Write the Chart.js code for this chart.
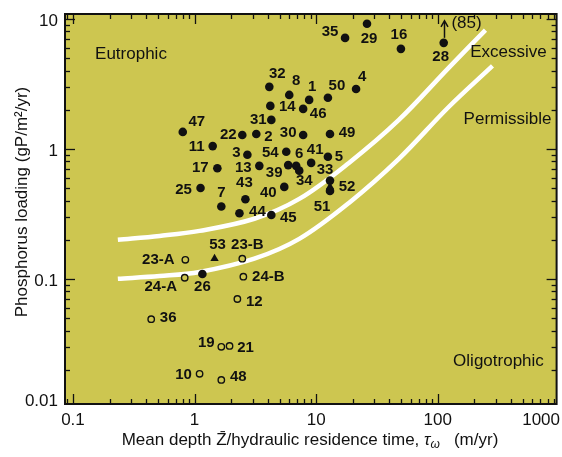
<!DOCTYPE html>
<html>
<head>
<meta charset="utf-8">
<script src="https://cdn.jsdelivr.net/npm/chart.js@4.4.0/dist/chart.umd.min.js"></script>
<style>
  html, body { margin: 0; padding: 0; background: #fff; }
</style>
</head>
<body>
<canvas id="chart" width="562" height="457"></canvas>
<script>
// Lakes: x = mean depth / residence time (m/yr), y = P loading (gP/m2/yr)
const filledLakes = ['32', '8', '1', '46', '50', '4', '14', '31', '22', '2', '30', '49',
  '47', '11', '3', '54', '6', '39', '17', '13', '41', '5', '34', '25', '40', '7', '43',
  '44', '45', '26', '33', '51', '35', '29', '16', '28'];
const filledRate = [4.12, 6.01, 8.76, 7.82, 12.5, 21.3, 4.20, 4.28, 2.47, 3.22, 7.82, 13.0,
  0.80, 1.41, 2.72, 5.68, 6.85, 5.89, 1.54, 3.41, 9.10, 12.5, 7.26, 1.12, 5.47, 1.66, 2.62,
  2.34, 4.28, 1.16, 13.0, 13.0, 17.3, 26.2, 49.8, 112];
const filledLoad = [3.0, 2.60, 2.38, 2.03, 2.47, 2.89, 2.14, 1.67, 1.28, 1.30, 1.28, 1.30,
  1.35, 1.05, 0.90, 0.95, 0.74, 0.75, 0.71, 0.74, 0.78, 0.87, 0.68, 0.50, 0.51, 0.36, 0.41,
  0.32, 0.31, 0.109, 0.57, 0.475, 7.14, 9.16, 5.88, 6.54];

const triLakes = ['52', '53'];
const triRate = [13.0, 1.46];
const triLoad = [0.51, 0.143];

const openLakes = ['23-A', '23-B', '24-A', '24-B', '12', '36', '19', '21', '10', '48'];
const openRate = [0.84, 2.47, 0.83, 2.52, 2.25, 0.44, 1.66, 1.94, 1.10, 1.66];
const openLoad = [0.14, 0.143, 0.102, 0.104, 0.070, 0.049, 0.030, 0.0305, 0.0186, 0.0167];

// boundary curves
const excessRate = [0.234, 0.516, 1.10, 3.10, 7.26, 18.6, 47.9, 123, 247];
const excessLoad = [0.20, 0.214, 0.234, 0.290, 0.412, 0.780, 1.67, 4.20, 8.2];
const permRate = [0.234, 0.516, 1.10, 3.10, 7.26, 18.6, 47.9, 123, 282];
const permLoad = [0.10, 0.105, 0.113, 0.143, 0.203, 0.384, 0.838, 2.10, 4.35];

const xTicks = [0.1, 1, 10, 100, 1000];
const xTickLabels = ['0.1', '1', '10', '100', '1000'];
const yTicks = [0.01, 0.1, 1, 10];
const yTickLabels = ['0.01', '0.1', '1', '10'];

const zones = ['Eutrophic', 'Excessive', 'Permissible', 'Oligotrophic'];
const zoneRate = [0.30, 382, 375, 316];
const zoneLoad = [5.3, 5.5, 1.70, 0.0234];

// where each lake number sits relative to its mark (px)
const labelOffset = {
  '32': [8, -13], '8': [7, -14], '1': [3, -13], '46': [15, 5], '50': [9, -12], '4': [6, -12],
  '14': [17, 1], '31': [-13, 0], '22': [-14, 0], '2': [12, 3], '30': [-15, -2], '49': [17, -1],
  '47': [14, -10], '11': [-16, 1], '3': [-11, -2], '54': [-16, 1], '6': [3, -12], '39': [-14, 8],
  '17': [-17, 0], '13': [-16, 2], '41': [4, -13], '5': [11, 0], '34': [5, 10], '25': [-17, 2],
  '40': [-16, 6], '7': [0, -14], '43': [-1, -16], '44': [18, -1], '45': [17, 3], '26': [0, 13],
  '33': [-5, -11], '51': [-8, 16], '35': [-15, -6], '29': [2, 15], '16': [-2, -14], '28': [-3, 14],
  '52': [17, 0], '53': [3, -14],
  '23-A': [-27, 0], '23-B': [5, -14], '24-A': [-24, 9], '24-B': [25, 0], '12': [17, 3],
  '36': [17, -1], '19': [-15, -4], '21': [16, 2], '10': [-16, 1], '48': [17, -3]
};

const BG = '#cdc650';
const INK = '#111';
const FONT = "'Liberation Sans', Arial, Helvetica, sans-serif";

function pts(xs, ys) {
  return xs.map((x, i) => ({ x: x, y: ys[i] }));
}

function line(ctx, x1, y1, x2, y2) {
  ctx.beginPath();
  ctx.moveTo(x1, y1);
  ctx.lineTo(x2, y2);
  ctx.stroke();
}

// plot background, ticks, text
const paperPlugin = {
  id: 'paper',
  beforeDraw(chart) {
    const { ctx, chartArea: a } = chart;
    ctx.save();
    ctx.fillStyle = BG;
    ctx.fillRect(a.left, a.top, a.right - a.left, a.bottom - a.top);
    ctx.restore();
  },
  afterDraw(chart) {
    const { ctx, chartArea: a } = chart;
    const sx = chart.scales.x;
    const sy = chart.scales.y;
    ctx.save();

    // inward ticks on all four sides
    ctx.strokeStyle = INK;
    ctx.lineWidth = 1.3;
    for (let e = -2; e <= 3; e++) {
      for (let m = 1; m <= 9; m++) {
        const v = m * Math.pow(10, e);
        const len = m === 1 ? 10 : 5;
        if (v >= sx.min && v <= sx.max) {
          const px = Math.round(sx.getPixelForValue(v)) + 0.5;
          line(ctx, px, a.bottom, px, a.bottom - len);
          line(ctx, px, a.top, px, a.top + len);
        }
        if (v >= sy.min && v <= sy.max) {
          const py = Math.round(sy.getPixelForValue(v)) + 0.5;
          line(ctx, a.left, py, a.left + len, py);
          line(ctx, a.right, py, a.right - len, py);
        }
      }
    }

    // frame
    ctx.lineWidth = 2;
    ctx.strokeRect(a.left, a.top, a.right - a.left, a.bottom - a.top);

    // tick labels
    ctx.fillStyle = INK;
    ctx.font = '17px ' + FONT;
    ctx.textBaseline = 'middle';
    ctx.textAlign = 'center';
    xTicks.forEach((v, i) => {
      const w = ctx.measureText(xTickLabels[i]).width;
      let px = sx.getPixelForValue(v);
      px = Math.min(px, 560 - w / 2);
      ctx.fillText(xTickLabels[i], px, a.bottom + 16);
    });
    ctx.textAlign = 'right';
    yTicks.forEach((v, i) => {
      let py = sy.getPixelForValue(v) + 2;
      py = Math.min(py, a.bottom - 3);
      ctx.fillText(yTickLabels[i], a.left - 7, py);
    });

    // axis titles
    ctx.save();
    ctx.translate(22, 202);
    ctx.rotate(-Math.PI / 2);
    ctx.textAlign = 'center';
    ctx.fillText('Phosphorus loading (gP/m\u00b2/yr)', 0, 0);
    ctx.restore();

    const t1 = 'Mean depth Z\u0304/hydraulic residence time, ';
    const t3 = '   (m/yr)';
    ctx.textAlign = 'left';
    const w1 = ctx.measureText(t1).width;
    ctx.font = 'italic 17px ' + FONT;
    const wTau = ctx.measureText('\u03c4').width;
    ctx.font = 'italic 12px ' + FONT;
    const wOm = ctx.measureText('\u03c9').width;
    ctx.font = '17px ' + FONT;
    const w3 = ctx.measureText(t3).width;
    let tx = 310 - (w1 + wTau + wOm + w3) / 2;
    const ty = 440;
    ctx.fillText(t1, tx, ty); tx += w1;
    ctx.font = 'italic 17px ' + FONT;
    ctx.fillText('\u03c4', tx, ty); tx += wTau;
    ctx.font = 'italic 12px ' + FONT;
    ctx.fillText('\u03c9', tx, ty + 5); tx += wOm;
    ctx.font = '17px ' + FONT;
    ctx.fillText(t3, tx, ty);

    // zone names
    ctx.textAlign = 'center';
    zones.forEach((z, i) => {
      ctx.fillText(z, sx.getPixelForValue(zoneRate[i]), sy.getPixelForValue(zoneLoad[i]));
    });

    // lake numbers
    ctx.font = 'bold 15px ' + FONT;
    const groups = [[filledLakes, filledRate, filledLoad], [triLakes, triRate, triLoad],
      [openLakes, openRate, openLoad]];
    groups.forEach(g => {
      g[0].forEach((name, i) => {
        const off = labelOffset[name] || [12, 0];
        ctx.fillText(name, sx.getPixelForValue(g[1][i]) + off[0], sy.getPixelForValue(g[2][i]) + off[1]);
      });
    });

    // lake 28 is off the top: arrow and true value
    const k = filledLakes.indexOf('28');
    const ax = Math.round(sx.getPixelForValue(filledRate[k])) + 0.5;
    const ay = sy.getPixelForValue(filledLoad[k]);
    ctx.lineWidth = 1.5;
    line(ctx, ax, ay - 5, ax, ay - 21);
    ctx.beginPath();
    ctx.moveTo(ax - 3.5, ay - 16);
    ctx.lineTo(ax, ay - 22);
    ctx.lineTo(ax + 3.5, ay - 16);
    ctx.stroke();
    ctx.font = '17px ' + FONT;
    ctx.fillText('(85)', ax + 22, ay - 20);

    ctx.restore();
  }
};

new Chart(document.getElementById('chart'), {
  type: 'scatter',
  data: {
    datasets: [
      {
        data: pts(filledRate, filledLoad),
        pointStyle: 'circle', pointRadius: 4.3,
        backgroundColor: INK, borderWidth: 0, order: 1
      },
      {
        data: pts(triRate, triLoad),
        pointStyle: 'triangle', pointRadius: 4.8,
        backgroundColor: INK, borderColor: INK, borderWidth: 0, order: 0
      },
      {
        data: pts(openRate, openLoad),
        pointStyle: 'circle', pointRadius: 3.2,
        backgroundColor: BG, borderColor: INK, borderWidth: 1.4, order: 1
      },
      {
        data: pts(excessRate, excessLoad),
        showLine: true, pointRadius: 0, borderColor: '#fff', borderWidth: 4.5,
        tension: 0.35, order: 5
      },
      {
        data: pts(permRate, permLoad),
        showLine: true, pointRadius: 0, borderColor: '#fff', borderWidth: 4.5,
        tension: 0.35, order: 5
      }
    ]
  },
  options: {
    responsive: false,
    animation: false,
    layout: { padding: { top: 14, right: 4, left: 0, bottom: 0 } },
    plugins: { legend: { display: false }, tooltip: { enabled: false } },
    scales: {
      x: {
        type: 'logarithmic', min: 0.086, max: 950,
        ticks: { display: false }, grid: { display: false }, border: { display: false },
        afterFit: s => { s.height = 53; }
      },
      y: {
        type: 'logarithmic', min: 0.0109, max: 10.9,
        ticks: { display: false }, grid: { display: false }, border: { display: false },
        afterFit: s => { s.width = 65; }
      }
    }
  },
  plugins: [paperPlugin]
});
</script>
</body>
</html>
